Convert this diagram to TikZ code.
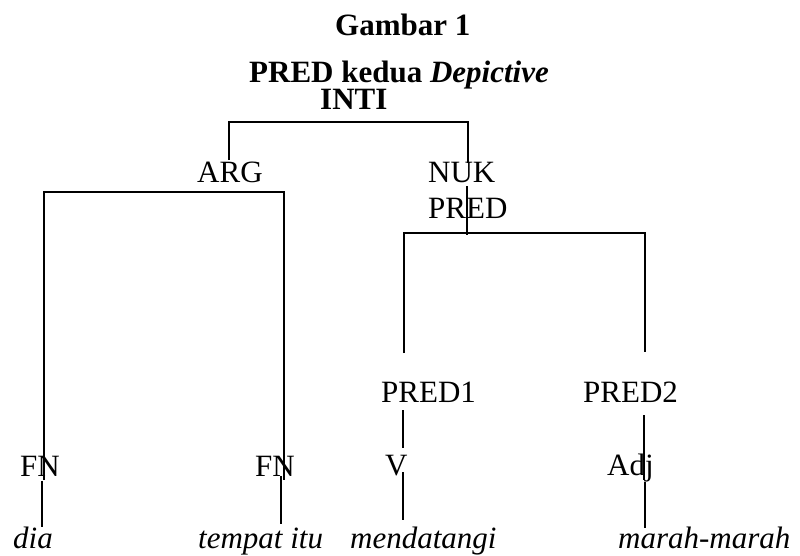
\documentclass[tikz,border=0pt]{standalone}
\usepackage{fontspec}
\setmainfont{Liberation Serif}
\begin{document}
\begin{tikzpicture}[x=1pt,y=-1pt,
  lbl/.style={anchor=base west,inner sep=0pt,font=\fontsize{31}{37}\selectfont},
  ttl/.style={lbl,font=\fontsize{31}{37}\selectfont\bfseries},
  word/.style={lbl,font=\fontsize{31}{37}\selectfont\itshape},
  branch/.style={line width=1.8pt,line join=miter},
  stem/.style={line width=1.5pt}]
\useasboundingbox (0,0) rectangle (800,555);

% heading
\node[ttl] (gambar) at (335,35) {Gambar 1};
\node[ttl,text depth=0pt] (judul) at (249,82) {PRED kedua \textit{Depictive}};
\node[ttl] (inti) at (320,109) {INTI};

% category labels
\node[lbl] (arg) at (197,182) {ARG};
\node[lbl] (nuk) at (428,182) {NUK};
\node[lbl] (pred) at (428,218) {PRED};
\node[lbl] (pred1) at (381,402) {PRED1};
\node[lbl] (pred2) at (583,402) {PRED2};
\node[lbl] (fn1) at (20,476) {FN};
\node[lbl] (fn2) at (255,476) {FN};
\node[lbl] (v) at (385,475) {V};
\node[lbl] (adj) at (607,475) {Adj};

% words
\node[word] (dia) at (13,548) {dia};
\node[word] (tempat) at (198,548) {tempat itu};
\node[word] (mendatangi) at (350,548) {mendatangi};
\node[word] (marah) at (618,548) {marah-marah};

% branch end points
\coordinate (intiL) at (229,160);
\coordinate (intiR) at (468,163);
\coordinate (nukTop) at (467,186);
\coordinate (nukBot) at (467,235);
\coordinate (argL) at (44,480);
\coordinate (argR) at (284,480);
\coordinate (predL) at (404,353);
\coordinate (predR) at (645,352);
\coordinate (fn1Bot) at (42,481);
\coordinate (diaTop) at (42,527);
\coordinate (fn2Bot) at (281,476);
\coordinate (tempatTop) at (281,524);
\coordinate (pred1Bot) at (403,410);
\coordinate (vTop) at (403,448);
\coordinate (vBot) at (403,472);
\coordinate (mendTop) at (403,520);
\coordinate (pred2Bot) at (644,415);
\coordinate (adjTop) at (644,480);
\coordinate (adjBot) at (645,482);
\coordinate (marahTop) at (645,528);

% INTI bracket
\draw[branch] (intiL) -- (intiL |- 0,122) -- (intiR |- 0,122) -- (intiR);
\draw[branch] (nukTop) -- (nukBot);
% ARG bracket
\draw[branch] (argL) -- (argL |- 0,192) -- (argR |- 0,192) -- (argR);
% NUK PRED bracket
\draw[branch] (predL) -- (predL |- 0,233) -- (predR |- 0,233) -- (predR);

% stems down to the words
\draw[stem] (fn1Bot) -- (diaTop);
\draw[stem] (fn2Bot) -- (tempatTop);
\draw[stem] (pred1Bot) -- (vTop);
\draw[stem] (vBot) -- (mendTop);
\draw[stem] (pred2Bot) -- (adjTop);
\draw[stem] (adjBot) -- (marahTop);
\end{tikzpicture}
\end{document}
